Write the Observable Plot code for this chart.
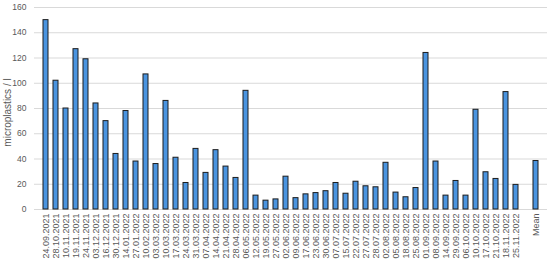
<!DOCTYPE html>
<html>
<head>
<meta charset="utf-8">
<script src="https://cdn.jsdelivr.net/npm/d3@7"></script>
<script src="https://cdn.jsdelivr.net/npm/@observablehq/plot@0.6"></script>
<style>
  body { margin: 0; background: #fff; }
  svg { font-family: "Liberation Sans", Arial, sans-serif; }
</style>
</head>
<body>
<div id="chart"></div>
<script>
const dates = ["24.09.2021","28.10.2021","10.11.2021","19.11.2021","24.11.2021","03.12.2021","16.12.2021","30.12.2021","14.01.2022","27.01.2022","10.02.2022","03.03.2022","10.03.2022","17.03.2022","24.03.2022","31.03.2022","07.04.2022","14.04.2022","21.04.2022","28.04.2022","06.05.2022","12.05.2022","19.05.2022","27.05.2022","02.06.2022","09.06.2022","17.06.2022","23.06.2022","30.06.2022","07.07.2022","15.07.2022","22.07.2022","27.07.2022","28.07.2022","02.08.2022","05.08.2022","18.08.2022","25.08.2022","01.09.2022","08.09.2022","14.09.2022","29.09.2022","06.10.2022","10.10.2022","17.10.2022","21.10.2022","18.11.2022","25.11.2022"," ","Mean"];
const values = [150,102,80,127,119,84,70,44,78,38,107,36,86,41,21,48,29,47,34,25,94,11,7,8,26,9,12,13,14.5,21,12.5,22,18.4,17.6,37,13.4,9.7,17,124,38,11,22.6,11,79,29.5,24.2,93,19.5,null,38.4];
const yTicks = [0,20,40,60,80,100,120,140,160];
const yTitle = "microplastics / l";

const data = dates.map((d, i) => ({date: d, value: values[i]})).filter(d => d.value != null);

const chart = Plot.plot({
  width: 550,
  height: 263,
  marginLeft: 34,
  marginRight: 3,
  marginTop: 7,
  marginBottom: 54,
  style: {fontFamily: "Liberation Sans, Arial, sans-serif", background: "#fff"},
  x: {domain: dates, padding: 0.55, paddingOuter: 0.275},
  y: {domain: [0, 160]},
  marks: [
    Plot.gridY(yTicks, {stroke: "#d9d9d9", strokeOpacity: 1, strokeWidth: 1}),
    Plot.barY(data, {x: "date", y: "value", fill: "#4a94e0", stroke: "#1c1c1c", strokeWidth: 1}),
    Plot.axisY(yTicks, {tickSize: 0, tickPadding: 8, fontSize: 8.5, fill: "#595959", label: null}),
    Plot.text([yTitle], {frameAnchor: "left", textAnchor: "middle", rotate: -90, dx: -27, dy: 4, fontSize: 10, fill: "#595959"}),
    Plot.axisX({tickSize: 0, tickRotate: -90, tickPadding: 4, fontSize: 9, fill: "#595959", label: null})
  ]
});
document.getElementById("chart").appendChild(chart);
</script>
</body>
</html>
